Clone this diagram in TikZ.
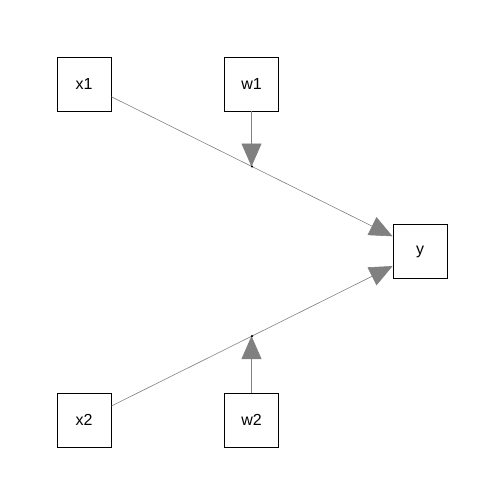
\documentclass[tikz,border=0pt]{standalone}
\usepackage{fontspec}
\setmainfont{Liberation Sans}
\usetikzlibrary{arrows.meta,calc}
\tikzset{
  varbox/.style={draw=black,line width=0.8pt,minimum size=54pt,inner sep=0pt,
    font=\fontsize{16}{18}\selectfont},
  pathline/.style={draw=gray,line width=0.6pt,
    -{Triangle[width=20pt,length=23pt,color=gray,fill=gray]}},
}
\newcommand{\mdot}[1]{\fill[black] (#1) circle (1.2pt);}

\begin{document}
\begin{tikzpicture}[x=1pt,y=-1pt]
  \useasboundingbox (0,0) rectangle (504,504);
  % variables
  \node[varbox] (x1) at (84,84) {x1};
  \node[varbox] (w1) at (251.5,84) {w1};
  \node[varbox] (y) at (420,251.5) {y};
  \node[varbox] (x2) at (84,420) {x2};
  \node[varbox] (w2) at (251.5,420) {w2};
  % main paths
  \draw[pathline] (x1.-25.7) -- (y.151.8);
  \draw[pathline] (x2.27.4) -- (y.208.2);
  % moderators
  \coordinate (m1) at ($(x1.-25.7)!0.5!(y.151.8)$);
  \coordinate (m2) at ($(x2.27.4)!0.5!(y.208.2)$);
  \draw[pathline] (w1.south) -- (w1.south |- m1);
  \draw[pathline] (w2.north) -- (w2.north |- m2);
  \mdot{m1} \mdot{m2}
\end{tikzpicture}
\end{document}
